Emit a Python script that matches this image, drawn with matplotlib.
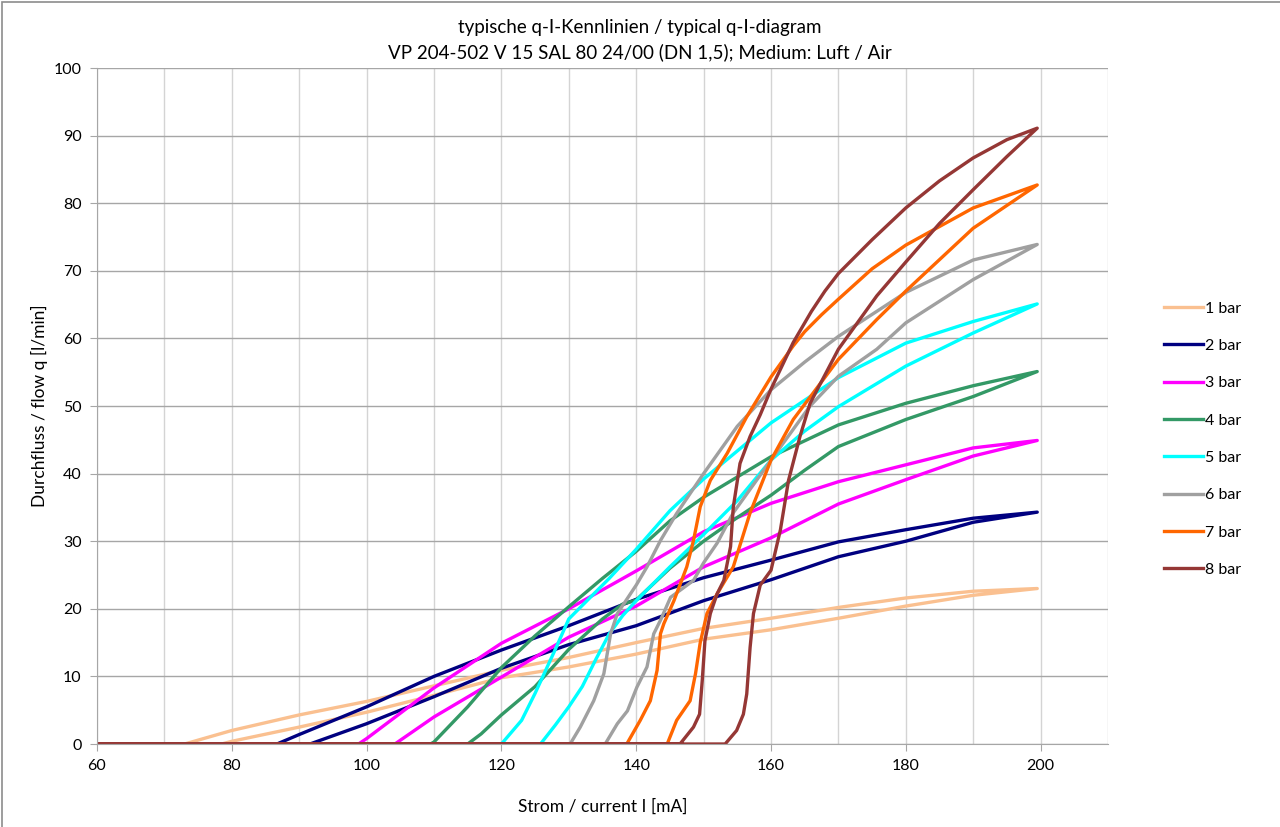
import numpy as np
import matplotlib
matplotlib.use("Agg")
import matplotlib.pyplot as plt
from matplotlib.patches import Rectangle

plt.rcParams['font.family'] = ['Lato', 'DejaVu Sans']

# Strom [mA] und Durchfluss [l/min], jeweils steigender (auf) und fallender (ab) Ast
i1_auf = [60, 78.5, 80, 90, 100, 110, 120, 130, 140, 150, 160, 170, 180, 190, 199.5]
q1_auf = [0, 0, 0.4, 2.5, 4.7, 7.2, 9.8, 11.4, 13.3, 15.5, 16.9, 18.6, 20.4, 22.0, 23.0]
i1_ab = [199.5, 190, 180, 170, 160, 150, 140, 130, 120, 110, 100, 90, 80, 73, 60]
q1_ab = [23.0, 22.6, 21.6, 20.2, 18.6, 17.1, 15.0, 12.8, 10.9, 8.6, 6.3, 4.3, 2.0, 0, 0]

i2_auf = [60, 91.6, 100, 110, 120, 130, 140, 150, 160, 170, 180, 190, 199.5]
q2_auf = [0, 0, 3.0, 7.0, 11.2, 14.7, 17.5, 21.2, 24.3, 27.7, 30.0, 32.8, 34.3]
i2_ab = [199.5, 190, 180, 170, 160, 150, 140, 130, 120, 110, 100, 90, 86.7, 60]
q2_ab = [34.3, 33.4, 31.7, 29.9, 27.2, 24.6, 21.4, 17.5, 13.9, 10.0, 5.5, 1.4, 0, 0]

i3_auf = [60, 104.2, 110, 120, 130, 140, 150, 160, 170, 180, 190, 199.5]
q3_auf = [0, 0, 4.0, 9.9, 15.8, 20.4, 26.2, 30.5, 35.5, 39.1, 42.6, 44.9]
i3_ab = [199.5, 190, 180, 170, 160, 150, 140, 130, 120, 110, 100, 98.8, 60]
q3_ab = [44.9, 43.8, 41.3, 38.8, 35.6, 31.4, 25.6, 20.0, 14.9, 8.3, 0.8, 0, 0]

i4_auf = [60, 115, 117, 120, 125, 130, 135, 138, 140, 145, 150, 155, 160, 165, 170, 180, 190, 199.5]
q4_auf = [0, 0, 1.5, 4.3, 8.5, 14.0, 18.5, 20.7, 21.3, 26.0, 30.0, 33.5, 36.8, 40.5, 44.0, 48.0, 51.4, 55.1]
i4_ab = [199.5, 190, 180, 170, 160, 150, 145, 140, 135, 130, 125, 120, 115, 110, 109.5, 60]
q4_ab = [55.1, 53.0, 50.4, 47.2, 42.5, 36.5, 33.0, 28.5, 24.5, 20.3, 16.0, 11.3, 5.5, 0.3, 0, 0]

i5_auf = [60, 125.8, 128, 130, 132, 134, 136, 138, 140, 145, 150, 155, 160, 165, 170, 180, 190, 199.5]
q5_auf = [0, 0, 2.8, 5.5, 8.5, 12.5, 16.3, 19.0, 21.2, 26.2, 31.0, 36.0, 42.0, 46.3, 49.9, 55.9, 60.8, 65.1]
i5_ab = [199.5, 190, 180, 170, 160, 150, 145, 140, 136, 133, 130, 128, 125, 123, 120, 60]
q5_ab = [65.1, 62.5, 59.3, 54.2, 47.5, 39.2, 34.5, 28.8, 24.5, 21.5, 18.5, 14.0, 7.5, 3.5, 0, 0]

i6_auf = [60, 135.4, 137.2, 138.7, 140.1, 141.6, 142.6, 143.6, 145.1, 148.5, 150, 152, 154.4, 160, 165.8, 170, 175.7, 180, 190, 199.5]
q6_auf = [0, 0, 3.0, 4.9, 8.4, 11.4, 16.3, 18.3, 21.7, 24.2, 26.8, 29.7, 34.2, 42.0, 50.0, 54.4, 58.4, 62.3, 68.7, 73.9]
i6_ab = [199.5, 190, 180, 170, 165, 160, 155, 150, 146, 143.6, 141.6, 140, 138, 137.2, 136.2, 135.2, 133.7, 131.7, 130.2, 60]
q6_ab = [73.9, 71.6, 66.8, 60.3, 56.5, 52.4, 47.0, 40.0, 34.1, 30.1, 26.2, 23.5, 20.5, 19.3, 16.3, 10.4, 6.4, 2.5, 0, 0]

i7_auf = [60, 144.6, 146, 148, 148.8, 149.5, 150.5, 152, 154.4, 156.9, 160, 163.3, 170, 175.7, 180, 190, 199.5]
q7_auf = [0, 0, 3.5, 6.4, 10.4, 15.0, 19.3, 22.2, 26.2, 34.2, 42.0, 48.0, 56.9, 62.8, 67.0, 76.3, 82.7]
i7_ab = [199.5, 190, 180, 175, 170, 167.5, 165, 163.3, 160, 156.4, 153.5, 151, 149.5, 148.5, 147.5, 145.6, 144.1, 143.6, 143.1, 142.1, 140.6, 138.6, 60]
q7_ab = [82.7, 79.3, 73.8, 70.3, 65.8, 63.5, 61.0, 58.9, 54.3, 48.4, 43.0, 39.0, 35.1, 30.1, 26.2, 21.2, 17.8, 16.3, 10.9, 6.4, 3.5, 0, 0]

i8_auf = [60, 153.2, 154.9, 155.9, 156.4, 156.9, 157.4, 158.4, 160, 161.4, 162.6, 164.3, 165.8, 170, 175.7, 180, 185, 190, 195, 199.5]
q8_auf = [0, 0, 2.0, 4.4, 7.4, 14.3, 19.3, 23.5, 25.7, 31.7, 39.0, 45.5, 50.4, 58.4, 66.3, 71.3, 77.0, 82.0, 86.9, 91.1]
i8_ab = [199.5, 195, 190, 185, 180, 175, 170, 168, 166, 163.3, 160, 158.4, 156.9, 155.4, 154.4, 154, 153, 152, 151, 150.2, 149.8, 149.4, 148.5, 146.5, 60]
q8_ab = [91.1, 89.4, 86.7, 83.3, 79.3, 74.6, 69.6, 67.0, 64.0, 59.4, 52.5, 48.7, 45.5, 41.5, 35.0, 29.2, 24.2, 22.2, 19.3, 15.3, 9.4, 4.4, 2.5, 0, 0]

namen = ['1 bar', '2 bar', '3 bar', '4 bar', '5 bar', '6 bar', '7 bar', '8 bar']
farben = ['#FAC090', '#000080', '#FF00FF', '#339966', '#00FFFF', '#A0A0A0', '#FF6600', '#953735']

kurven = [
    (i1_auf + i1_ab, q1_auf + q1_ab),
    (i2_auf + i2_ab, q2_auf + q2_ab),
    (i3_auf + i3_ab, q3_auf + q3_ab),
    (i4_auf + i4_ab, q4_auf + q4_ab),
    (i5_auf + i5_ab, q5_auf + q5_ab),
    (i6_auf + i6_ab, q6_auf + q6_ab),
    (i7_auf + i7_ab, q7_auf + q7_ab),
    (i8_auf + i8_ab, q8_auf + q8_ab),
]

fig = plt.figure(figsize=(12.8, 8.27), dpi=100)
ax = fig.add_axes([97 / 1280, 83 / 827, 1011 / 1280, 676 / 827])

for (x, y), name, farbe in zip(kurven, namen, farben):
    ax.plot(x, y, color=farbe, lw=2.4, label=name, solid_joinstyle='round')

ax.set_xlim(60, 210)
ax.set_ylim(0, 100)
ax.set_xticks(np.arange(60, 201, 20))
ax.set_xticks(np.arange(60, 211, 10), minor=True)
ax.set_yticks(np.arange(0, 101, 10))
ax.grid(which='minor', axis='x', color='#D4D4D4', lw=1)
ax.grid(which='major', axis='x', color='#D4D4D4', lw=1)
ax.grid(which='major', axis='y', color='#A6A6A6', lw=1)
ax.set_axisbelow(True)
ax.tick_params(which='minor', length=0)
ax.tick_params(which='major', length=5, color='#A6A6A6', labelsize=11.5, pad=6)
for s in ['top', 'right']:
    ax.spines[s].set_visible(False)
for s in ['left', 'bottom']:
    ax.spines[s].set_color('#A6A6A6')

ax.set_xlabel('Strom / current I [mA]', fontsize=12.5, labelpad=18)
ax.set_ylabel('Durchfluss / flow q [l/min]', fontsize=12.5, labelpad=4)

fig.text(0.5, 1 - 27 / 827, 'typische q-I-Kennlinien / typical q-I-diagram',
         ha='center', va='center', fontsize=13.5)
fig.text(0.5, 1 - 52 / 827, 'VP 204-502 V 15 SAL 80 24/00 (DN 1,5); Medium: Luft / Air',
         ha='center', va='center', fontsize=13.5)

ax.legend(loc='upper left', bbox_to_anchor=(1150 / 1280, 1 - 287 / 827),
          bbox_transform=fig.transFigure, frameon=False, fontsize=11.5,
          handlelength=2.4, handletextpad=0.15, labelspacing=1.45)

fig.patches.append(Rectangle((2 / 1280, -0.01), 1.1, 1.01 - 2 / 827, transform=fig.transFigure,
                             fill=False, edgecolor='#8C8C8C', lw=1.2))

fig.savefig('out.png', dpi=100)
